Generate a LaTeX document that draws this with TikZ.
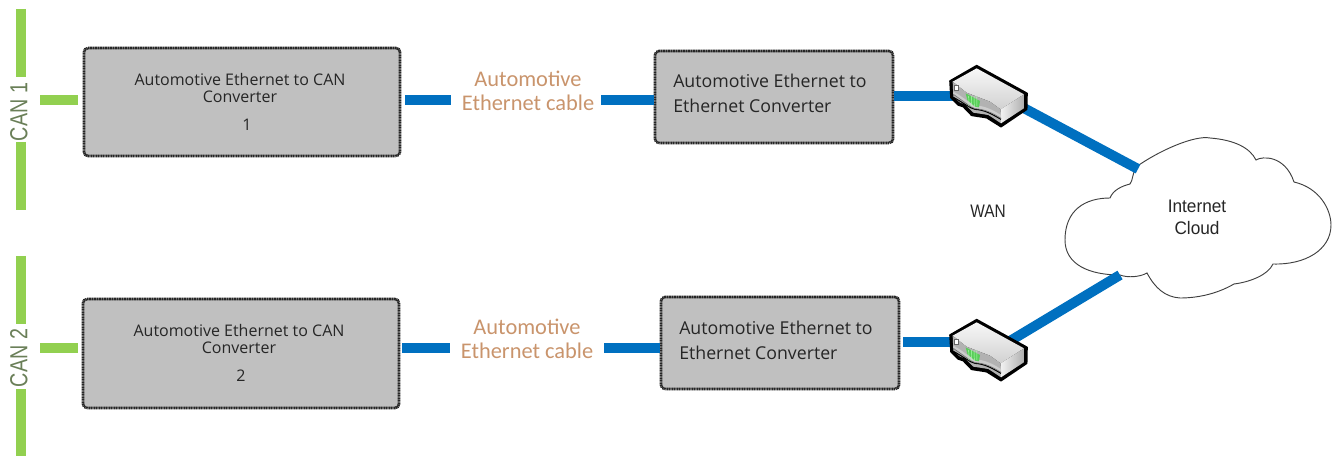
\documentclass[tikz,border=0pt]{standalone}
\usepackage{fontspec}
\setmainfont{Open Sans}
\newfontfamily\arialf{Liberation Sans}
\newfontfamily\labelf{Carlito}
\usetikzlibrary{calc}
\definecolor{canGreen}{HTML}{92D050}
\definecolor{cableBlue}{HTML}{0070C0}
\definecolor{boxGrey}{HTML}{C0C0C0}
\definecolor{labelOrange}{HTML}{C9946C}
\definecolor{canText}{HTML}{6A7F58}
\tikzset{
  x=0.75pt,y=-0.75pt,
  conv/.style={draw=black!85,fill=boxGrey,line width=2pt,rounded corners=3pt,dash pattern=on 0.9pt off 0.35pt,inner sep=0pt,outer sep=0pt,anchor=north west},
  canbus/.style={canGreen,line width=7.5pt},
  cable/.style={cableBlue,line width=7.5pt},
  cablelabel/.style={font=\labelf\fontsize{16.8}{18}\selectfont,text=labelOrange,align=center,inner sep=0pt},
  smalltxt/.style={font=\fontsize{12}{12.6}\selectfont,align=center,text=black!85},
  midtxt/.style={font=\fontsize{13.3}{18.6}\selectfont,align=left,text=black!85,inner sep=0pt},
  arialtxt/.style={font=\arialf\fontsize{13.6}{16.5}\selectfont,align=center,text=black!85,inner sep=0pt},
  cantxt/.style={font=\arialf\fontsize{18.5}{20}\selectfont,text=canText,rotate=90,inner sep=0pt},
  router/.pic={
    \begin{scope}[x=0.25pt,y=-0.25pt]
    \fill[black,line join=round,draw=black,line width=1.2pt] (140,47)--(60,93)--(63,143)--(85,165)--(100,170)--(125,196)--(170,203)--(213,230)--(290,178)--(291,130)--cycle;
    \shade[top color=black!3,bottom color=black!18] (140,55)--(68,95)--(110,128)--(180,155)--(212,178)--(282,133)--cycle;
    \fill[black!30] (68,95)--(70,140)--(90,158)--(105,163)--(130,188)--(175,195)--(213,220)--(212,178)--(180,155)--(110,128)--cycle;
    \shade[left color=black!5,right color=black!32] (212,178)--(213,220)--(283,174)--(282,133)--cycle;
    \fill[white!80!black] (70,125) .. controls (100,140) and (120,162) .. (135,166) .. controls (165,168) and (185,178) .. (213,195) -- (213,205) .. controls (185,188) and (165,178) .. (135,176) .. controls (120,170) and (95,150) .. (70,133) -- cycle;
    \draw[black,line width=0.8pt] (70,142) .. controls (100,158) and (120,175) .. (135,178) .. controls (165,180) and (185,192) .. (213,208);
    \draw[black!55,line width=0.5pt] (70,133) .. controls (95,150) and (120,170) .. (135,176) .. controls (165,178) and (185,188) .. (213,205);
    \fill[white] (72,107) rectangle (86,122);
    \draw[black!60,line width=0.5pt] (72,107) rectangle (86,122);
    \fill[green!70!black!65] (107,130)--(150,153)--(147,172)--(135,170)--(112,150)--cycle;
    \foreach \gx in {116,124,132,140}{\draw[white!70!green,line width=0.35pt] (\gx,138) -- (\gx+1,170);}
    \end{scope}
  }
}
\begin{document}
\begin{tikzpicture}
\useasboundingbox (0,0) rectangle (1340,456);
% CAN buses
\coordinate (can1top) at (21,9); \coordinate (can1a) at (21,77);
\coordinate (can1b) at (21,142); \coordinate (can1bot) at (21,210);
\coordinate (can2top) at (21,256); \coordinate (can2a) at (21,324);
\coordinate (can2b) at (21,389); \coordinate (can2bot) at (21,456);
\draw[canbus] (can1top) -- (can1a); \draw[canbus] (can1b) -- (can1bot);
\draw[canbus] (can2top) -- (can2a); \draw[canbus] (can2b) -- (can2bot);
\node[cantxt] (can1) at (19,112) {\scalebox{0.8}[1]{CAN 1}};
\node[cantxt] (can2) at (19,358) {\scalebox{0.8}[1]{CAN 2}};
% boxes
\node[conv,minimum width=237pt,minimum height=81pt] (a1) at (84,48) {};
\node[conv,minimum width=237pt,minimum height=81.75pt] (a2) at (83,299) {};
\node[conv,minimum width=178.5pt,minimum height=69pt] (e1) at (655,51) {};
\node[conv,minimum width=178.5pt,minimum height=69pt] (e2) at (661,297) {};
\node[smalltxt] (a1t) at (240,88) {Automotive Ethernet to CAN\\Converter};
\node[smalltxt] (a1n) at (247,125) {1};
\node[smalltxt] (a2t) at (239,339) {Automotive Ethernet to CAN\\Converter};
\node[smalltxt] (a2n) at (241,376) {2};
\node[midtxt,anchor=west] (e1t) at (673,93) {Automotive Ethernet to\\Ethernet Converter};
\node[midtxt,anchor=west] (e2t) at (679,340) {Automotive Ethernet to\\Ethernet Converter};
% green stubs
\coordinate (s1) at (40,100); \coordinate (s2) at (40,348);
\draw[canbus] (s1) -- ([xshift=-4.5pt]a1.west |- s1);
\draw[canbus] (s2) -- ([xshift=-3.75pt]a2.west |- s2);
% cable labels
\node[cablelabel] (l1) at (528,90.5) {Automotive\\Ethernet cable};
\node[cablelabel] (l2) at (527,338.5) {Automotive\\Ethernet cable};
% cloud
\draw[black!75,line width=0.7pt,fill=white] (1136,167)
 .. controls (1160,150) and (1195,135) .. (1210,138)
 .. controls (1235,140) and (1250,148) .. (1256,160)
 .. controls (1262,156) and (1285,155) .. (1294,182)
 .. controls (1320,188) and (1331,210) .. (1331,225)
 .. controls (1331,250) and (1305,265) .. (1273,264)
 .. controls (1268,275) and (1250,282) .. (1234,284)
 .. controls (1215,295) and (1195,298) .. (1180,298)
 .. controls (1165,297) and (1155,288) .. (1147,273)
 .. controls (1140,277) and (1128,278) .. (1120,275)
 .. controls (1090,275) and (1065,265) .. (1065,240)
 .. controls (1065,210) and (1085,198) .. (1110,198)
 .. controls (1113,190) and (1122,186) .. (1130,184)
 .. controls (1133,180) and (1132,175) .. (1136,167) -- cycle;
\node[arialtxt] (cloudt) at (1197,217) {\scalebox{0.95}[1]{Internet}\\\scalebox{0.95}[1]{Cloud}};
\node[arialtxt] (wan) at (988,211) {\scalebox{0.85}[1]{WAN}};
% cables
\coordinate (r1) at (1005,98); \coordinate (r2) at (1000,347);
\coordinate (c1) at (1138,169); \coordinate (c2) at (1120,275);
\coordinate (r1in) at (960,96); \coordinate (r2in) at (960,342);
\draw[cable] ([xshift=3.75pt]a1.east |- s1) -- ([xshift=-8.25pt]l1.west |- s1);
\draw[cable] ([xshift=5.25pt]l1.east |- s1) -- ([xshift=-1pt]e1.west |- s1);
\draw[cable] ([xshift=2.25pt]a2.east |- s2) -- ([xshift=-8.25pt]l2.west |- s2);
\draw[cable] ([xshift=8pt]l2.east |- s2) -- ([xshift=-1pt]e2.west |- s2);
\draw[cable] ([xshift=1pt]e1.east |- r1in) -- (r1in);
\draw[cable] ([xshift=3pt]e2.east |- r2in) -- (r2in);
\draw[cable] (r1) -- (c1);
\draw[cable] (r2) -- (c2);
\pic at (930,50) {router};
\pic at (930,304) {router};
\end{tikzpicture}
\end{document}
